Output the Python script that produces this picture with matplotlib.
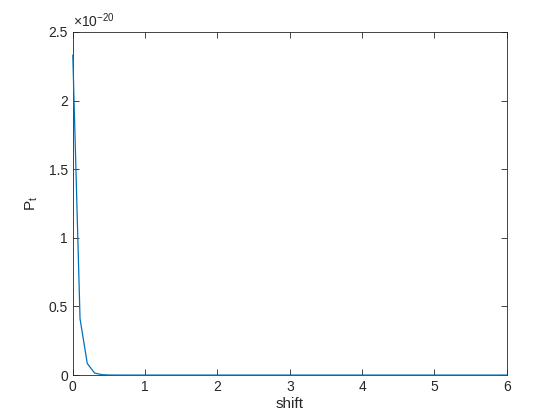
import numpy as np
import matplotlib
matplotlib.use("Agg")
from matplotlib import pyplot as plt
from matplotlib.ticker import FuncFormatter

plt.rcParams['font.family'] = ['Liberation Sans', 'DejaVu Sans']
plt.rcParams['mathtext.fontset'] = 'custom'
plt.rcParams['mathtext.rm'] = 'Liberation Sans'

# shift sampled every 0.1 from 0 to 6, P_t in units of 1e-20
shift = np.round(np.arange(0, 6.05, 0.1), 1)
pt_head = [2.33, 0.41, 0.085, 0.015, 0.003, 0.0006, 0.0001, 0.00002, 0.000004]
pt = np.array(pt_head + [0.0] * (len(shift) - len(pt_head)))
scale_exp = -20

edge = (0.15, 0.15, 0.15)

fig = plt.figure(figsize=(5.6, 4.2), dpi=100)
ax = fig.add_axes([0.13, 0.107, 0.775, 0.817])
ax.plot(shift, pt, color='#0072BD', linewidth=0.9, zorder=3, clip_on=False)

ax.set_xlim(0, 6)
ax.set_ylim(0, 2.5)
ax.set_xticks(range(0, 7))
ax.set_yticks([0, 0.5, 1, 1.5, 2, 2.5])
ax.yaxis.set_major_formatter(FuncFormatter(lambda v, p: '%g' % v))

ax.tick_params(direction='in', top=True, right=True, length=4, width=0.6,
               colors=edge, labelsize=10, labelcolor=edge)
for s in ax.spines.values():
    s.set_color(edge)
    s.set_linewidth(0.6)

ax.set_xlabel('shift', fontsize=11, color=edge, labelpad=2)
ax.set_ylabel('P$_{\\mathregular{t}}$', fontsize=11, color=edge, labelpad=6)
ax.text(0.0, 1.005, '$\\times$10$^{\\mathregular{%d}}$' % scale_exp, transform=ax.transAxes,
        fontsize=10, color=edge, ha='left', va='bottom')

fig.savefig('out.png', dpi=100)
